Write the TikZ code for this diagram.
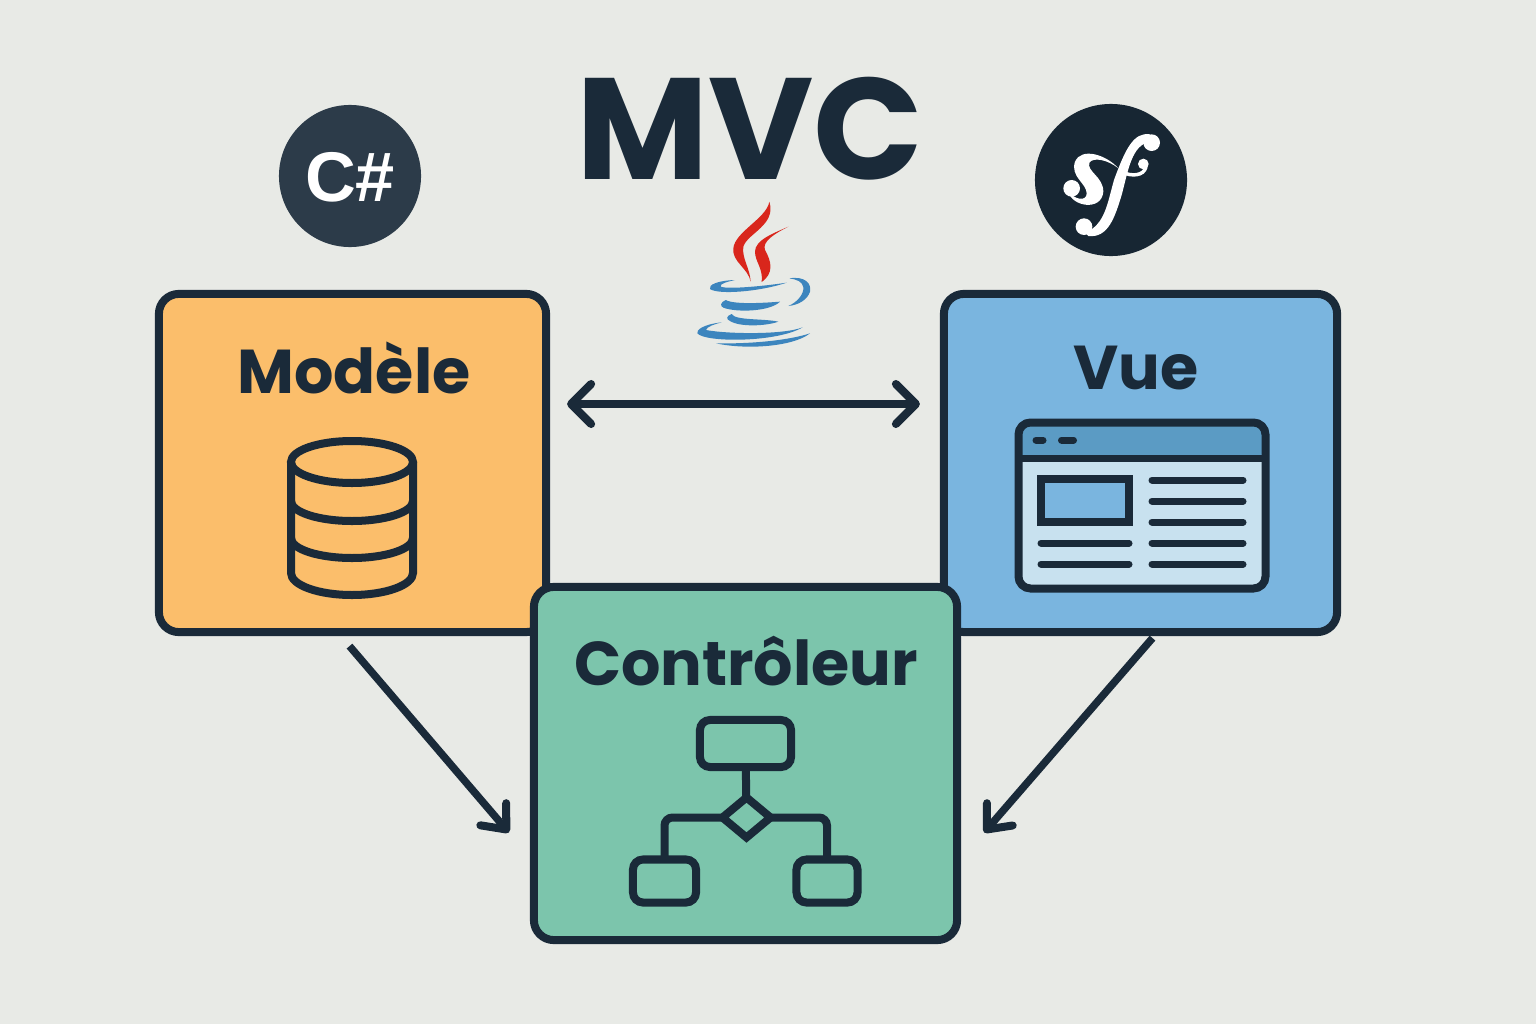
\documentclass[tikz,border=0pt]{standalone}
\usepackage{fontspec}
\setmainfont{Poppins}
\newfontfamily\badgefont{Liberation Sans}
\usepackage{xcolor}
\usetikzlibrary{shapes.geometric}
\usetikzlibrary{arrows.meta}
\usetikzlibrary{calc}

\definecolor{paper}{HTML}{E8EAE6}
\definecolor{ink}{HTML}{1A2A39}
\definecolor{modelefill}{HTML}{FBBE6B}
\definecolor{vuefill}{HTML}{7AB5DF}
\definecolor{ctrlfill}{HTML}{7CC5AC}
\definecolor{barfill}{HTML}{5B9BC4}
\definecolor{pagefill}{HTML}{C8E1EF}
\definecolor{javared}{HTML}{D9261C}
\definecolor{javablue}{HTML}{3C85BE}

\tikzset{shortbarb/.tip={Straight Barb[round,length=2mm,width=4mm,line width=0.8mm]}}
\tikzset{longbarb/.tip={Straight Barb[round,length=2mm,width=3.4mm,line width=0.8mm]}}

\begin{document}
\begin{tikzpicture}[x=0.01cm,y=-0.01cm]

		\tikzstyle{panel}  = [rectangle, rounded corners=0.2cm, draw=ink, line width=0.8mm, outer sep=0pt, inner sep=0pt]
		\tikzstyle{heading} = [font=\fontsize{17.6}{17.6}\selectfont\bfseries, text=ink, inner sep=0pt]
		\tikzstyle{flowbox} = [rectangle, rounded corners=0.1cm, draw=ink, line width=0.8mm, outer sep=0pt, inner sep=0pt]
		\tikzstyle{flowline} = [draw=ink, line width=0.8mm, rounded corners=0.08cm]
		\tikzstyle{pageline} = [draw=ink, line width=0.7mm, line cap=round]
		\tikzstyle{dbline} = [draw=ink, line width=0.8mm]
		\tikzstyle{link} = [draw=ink, line width=0.75mm]

		\useasboundingbox (0,0) rectangle (1536,1024);
		\fill [paper] (0,0) rectangle (1536,1024);

		%%Title and badges
		\node [font=\fontsize{41}{41}\selectfont\bfseries, text=ink, inner sep=0pt](title) at (750,129) {MVC};
		\node [circle, fill=ink!92!white, minimum size=1.42cm, inner sep=0pt, outer sep=0pt](csharp) at (350,176) {};
		\node [font=\badgefont\fontsize{20}{20}\selectfont\bfseries, text=white, inner sep=0pt](csharptext) at (350,177) {C\#};
		\node [circle, fill=ink!90!black, minimum size=1.52cm, inner sep=0pt, outer sep=0pt](symfony) at (1111,180) {};

		%%Symfony mark
		\begin{scope}[shift={(1020,90)},scale=1/3]
			\fill [white] (395,158) circle (25);
			\fill [white] (192,410) circle (25);
			\fill [white] (370,222) circle (16);
			\fill [white] (390,133) .. controls (340,125) and (315,180) .. (282,270)
				.. controls (262,340) and (255,405) .. (195,428)
				-- (205,438) .. controls (265,445) and (285,380) .. (305,315)
				.. controls (325,240) and (335,165) .. (390,155) -- cycle;
			\draw [white, line width=0.35mm] (315,250) .. controls (350,262) and (378,250) .. (378,225);
			\fill [white] (295,235) .. controls (260,195) and (185,170) .. (165,215)
				.. controls (150,260) and (200,280) .. (200,310)
				.. controls (200,335) and (165,330) .. (145,305)
				.. controls (155,350) and (245,365) .. (250,305)
				.. controls (250,260) and (200,245) .. (208,218)
				.. controls (220,200) and (265,210) .. (295,235) -- cycle;
			\fill [white] (155,295) circle (25);
		\end{scope}

		%%Java mark
		\begin{scope}[shift={(660,190)},scale=1/3]
			\fill [javared] (328,35) .. controls (320,85) and (225,125) .. (220,175)
				.. controls (215,215) and (265,235) .. (272,275)
				.. controls (270,235) and (245,205) .. (250,170)
				.. controls (262,130) and (350,105) .. (328,35) -- cycle;
			\fill [javared] (385,110) .. controls (340,130) and (285,150) .. (285,185)
				.. controls (285,215) and (310,235) .. (305,276)
				.. controls (342,250) and (335,215) .. (315,180)
				.. controls (305,155) and (345,130) .. (385,110) -- cycle;
			\fill [javablue] (225,270) .. controls (170,272) and (145,285) .. (150,297)
				.. controls (175,315) and (300,305) .. (380,278)
				.. controls (300,290) and (200,298) .. (182,290)
				.. controls (178,280) and (205,275) .. (225,270) -- cycle;
			\fill [javablue] (388,265) .. controls (435,258) and (455,280) .. (450,305)
				.. controls (442,330) and (415,345) .. (385,348)
				.. controls (415,335) and (432,310) .. (430,292)
				.. controls (428,275) and (410,268) .. (388,265) -- cycle;
			\fill [javablue] (197,330) .. controls (180,338) and (180,348) .. (190,353)
				.. controls (230,368) and (330,365) .. (360,335)
				.. controls (320,338) and (225,345) .. (197,330) -- cycle;
			\fill [javablue] (215,372) .. controls (198,378) and (198,388) .. (210,393)
				.. controls (240,412) and (320,408) .. (355,395)
				.. controls (310,385) and (225,392) .. (215,372) -- cycle;
			\fill [javablue] (185,397) .. controls (130,403) and (108,420) .. (112,430)
				.. controls (135,458) and (350,458) .. (428,412)
				.. controls (370,435) and (200,432) .. (138,420)
				.. controls (140,410) and (165,402) .. (185,397) -- cycle;
			\fill [javablue] (168,460) .. controls (280,462) and (390,450) .. (450,430)
				.. controls (400,470) and (260,480) .. (168,460) -- cycle;
		\end{scope}

		%%Panels
		\node [panel, fill=modelefill, minimum width=3.87cm, minimum height=3.38cm](modele) at (352.5,463) {};
		\node [panel, fill=vuefill, minimum width=3.93cm, minimum height=3.38cm](vue) at (1140.5,463) {};
		\node [panel, fill=ctrlfill, minimum width=4.23cm, minimum height=3.53cm](controleur) at (745.5,763.5) {};
		\node [heading](modeletext) at (354,368) {Modèle};
		\node [heading](vuetext) at (1136,368) {Vue};
		\node [heading](controleurtext) at (746,661) {Contrôleur};

		%%Connectors
		\coordinate (modelevue) at ($(modele.east)+(21,-59)$);
		\coordinate (vuemodele) at ($(vue.west)+(-24,-59)$);
		\coordinate (modelefoot) at ($(modele.south)+(-3,14)$);
		\coordinate (vuefoot) at ($(vue.south)+(12,6)$);
		\coordinate (ctrlleft) at ($(controleur.west)+(-25,69)$);
		\coordinate (ctrlright) at ($(controleur.east)+(27,69)$);
		\draw [link, shortbarb-shortbarb] (modelevue)--(vuemodele);
		\draw [link, -longbarb] (modelefoot)--(ctrlleft);
		\draw [link, -longbarb] (vuefoot)--(ctrlright);

		%%Database icon
		\draw [dbline] (291,462) -- (291,573) arc [start angle=180, end angle=360, x radius=61, y radius=-22] -- (413,462);
		\draw [dbline] (352,462) ellipse [x radius=61, y radius=21];
		\draw [dbline] (291,501) arc [start angle=180, end angle=360, x radius=61, y radius=-20];
		\draw [dbline] (291,538) arc [start angle=180, end angle=360, x radius=61, y radius=-20];

		%%Page icon
		\fill [pagefill, rounded corners=0.12cm] (1018.5,422.5) rectangle (1265.5,588.5);
		\fill [barfill, rounded corners=0.12cm] (1018.5,458) -- (1018.5,422.5) -- (1265.5,422.5) -- (1265.5,458) [sharp corners] -- cycle;
		\draw [draw=ink, line width=0.8mm, rounded corners=0.12cm] (1018.5,422.5) rectangle (1265.5,588.5);
		\draw [draw=ink, line width=0.7mm] (1018.5,458) -- (1265.5,458);
		\draw [pageline] (1036,440) -- (1043,440);
		\draw [pageline] (1061.5,440) -- (1073.5,440);
		\draw [draw=ink, line width=0.8mm, fill=vuefill] (1041,479) rectangle (1129,522);
		\foreach \y in {480,501,522,543,564} {
			\draw [pageline] (1152,\y) -- (1243,\y);
		}
		\foreach \y in {543,564} {
			\draw [pageline] (1041,\y) -- (1129,\y);
		}

		%%Flow icon
		\node [flowbox, minimum width=0.91cm, minimum height=0.47cm](flowtop) at (745.5,743.5) {};
		\node [diamond, draw=ink, line width=0.8mm, outer sep=0pt, inner sep=0pt, minimum width=0.48cm, minimum height=0.4cm](flowgate) at (746.5,817.5) {};
		\node [flowbox, minimum width=0.63cm, minimum height=0.43cm](flowleft) at (664.5,881) {};
		\node [flowbox, minimum width=0.61cm, minimum height=0.43cm](flowright) at (827,881) {};
		\draw [flowline] (flowtop)--(flowgate);
		\draw [flowline] (flowgate.west) -| (flowleft.north);
		\draw [flowline] (flowgate.east) -| (flowright.north);

	\end{tikzpicture}
\end{document}
